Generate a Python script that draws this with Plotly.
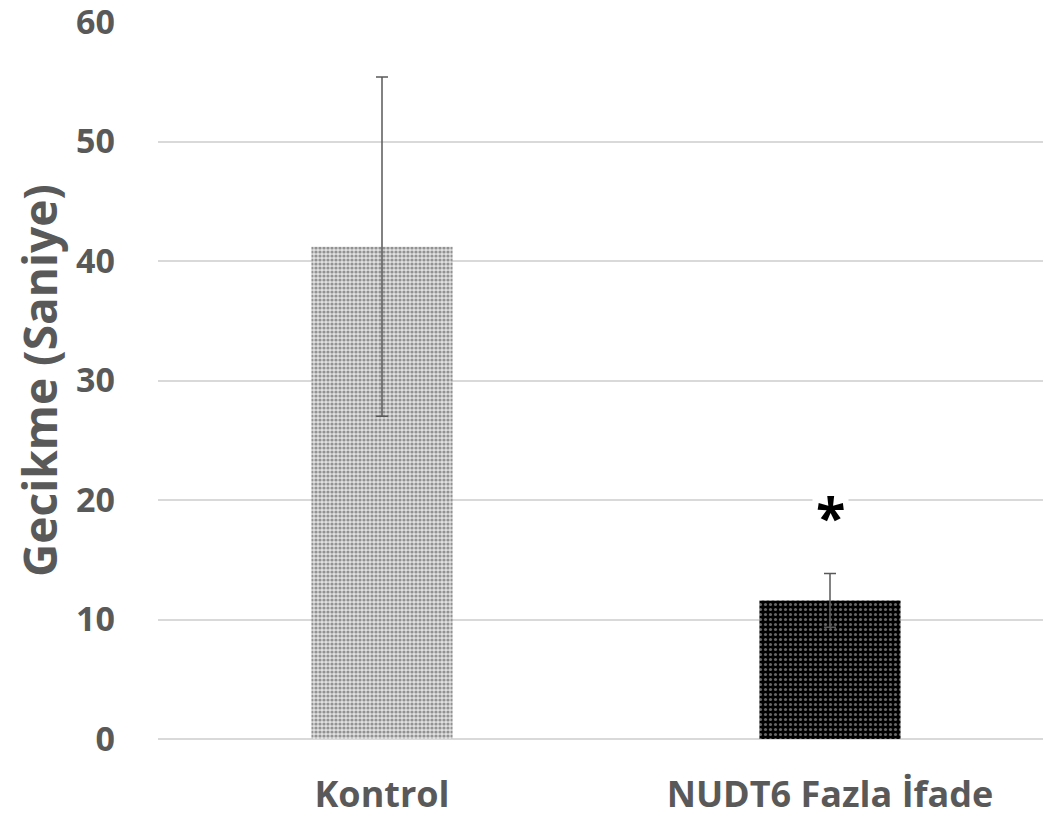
import plotly.graph_objects as go

categories = ["Kontrol", "NUDT6 Fazla İfade"]
values = [41.2, 11.6]
errors = [14.2, 2.25]
y_ticks = [0, 10, 20, 30, 40, 50, 60]
sig_label = "*"
sig_y = 18.7

fig = go.Figure()
fig.add_trace(go.Bar(
    x=[categories[0]], y=[values[0]],
    error_y=dict(type="data", array=[errors[0]], color="#595959", thickness=1.5, width=6),
    marker=dict(color="#ffffff", line=dict(width=0),
                pattern=dict(shape=".", bgcolor="#e0e0e0", fgcolor="#444444", size=4, solidity=0.5)),
    width=0.315,
))
fig.add_trace(go.Bar(
    x=[categories[1]], y=[values[1]],
    error_y=dict(type="data", array=[errors[1]], color="#595959", thickness=1.5, width=6),
    marker=dict(color="#000000", line=dict(width=0),
                pattern=dict(shape=".", bgcolor="#000000", fgcolor="#cccccc", size=5, solidity=0.3)),
    width=0.315,
))
fig.add_annotation(x=categories[1], y=sig_y, text="<b>" + sig_label + "</b>", showarrow=False,
                   font=dict(size=54, color="#000000", family="Open Sans"),
                   bgcolor="#ffffff", xref="x", yref="y", yanchor="middle",
                   borderpad=3)
fig.update_layout(
    width=1051, height=816,
    paper_bgcolor="#ffffff", plot_bgcolor="#ffffff",
    showlegend=False,
    margin=dict(l=150, r=5, t=14, b=85),
    font=dict(family="Open Sans", color="#595959"),
    xaxis=dict(tickfont=dict(size=36, family="Open Sans", color="#595959", weight="bold"),
               showline=False, showgrid=False, ticks="", automargin=False,
               ticklabelstandoff=31),
    yaxis=dict(range=[0, 60], tickvals=y_ticks, showgrid=True, gridcolor="#d9d9d9", gridwidth=1.5,
               zeroline=True, zerolinecolor="#d9d9d9", zerolinewidth=1.5, automargin=False,
               ticklabeloverflow="allow",
               tickfont=dict(size=34, family="Open Sans", color="#595959", weight="bold"),
               ticklabelstandoff=42,
               title=dict(text="Gecikme (Saniye)", font=dict(size=46, family="Open Sans", color="#595959", weight="bold"), standoff=33)),
)
fig.write_html("out.html")
